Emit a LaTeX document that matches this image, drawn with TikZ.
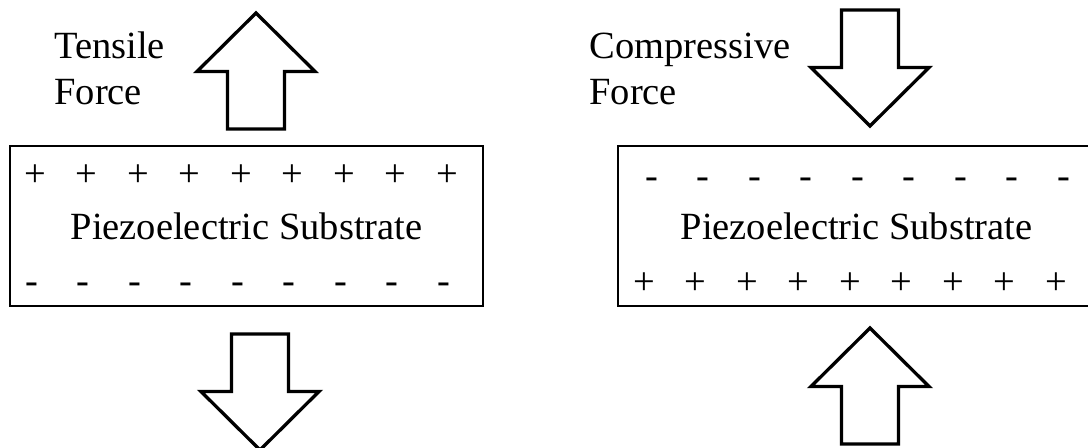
\documentclass[tikz,border=0pt]{standalone}
\usepackage{fontspec}
\setmainfont{Liberation Serif}

\tikzset{
  substrate/.style={draw, line width=1.15pt, inner sep=0pt},
  force/.style={draw, line width=1.65pt, fill=white},
  boxtext/.style={inner sep=0pt, font=\fontsize{19.25}{23.5}\selectfont},
  charge/.style={inner sep=0pt, font=\fontsize{19.25}{23.5}\selectfont},
}

% block arrow: tip x, tip y, direction (1 points up, -1 points down)
\newcommand{\blockarrow}[3]{%
  \draw[force] (#1,#2) -- ++(59,{58.5*(#3)}) -- ++(-30.5,0) -- ++(0,{57.5*(#3)})
    -- ++(-57,0) -- ++(0,{-57.5*(#3)}) -- ++(-30.5,0) -- cycle;}

\begin{document}
\begin{tikzpicture}[x=0.5pt, y=-0.5pt]
  \useasboundingbox (0,0) rectangle (1088,448);
  \clip (0,0) rectangle (1088,448);

  % tensile side
  \node[substrate, minimum width=236.5pt, minimum height=80pt] (leftbox) at (246.5,226) {};
  \node[boxtext, anchor=base] (lefttext) at (246.5,240) {Piezoelectric Substrate};
  \node[boxtext, anchor=base west] (tensile) at (54,59) {Tensile};
  \node[boxtext, anchor=base west] (tensileforce) at (54,105) {Force};
  \foreach \i in {0,...,8} {
    \node[charge] (lplus\i) at ({35+51.5*\i},176) {+};
    \node[charge] (lminus\i) at ({31.7+51.5*\i},288) {-};
  }
  \blockarrow{256}{13}{1}
  \blockarrow{260}{450}{-1}

  % compressive side
  \node[substrate, minimum width=238.5pt, minimum height=80pt] (rightbox) at (856.5,226) {};
  \node[boxtext, anchor=base] (righttext) at (856.5,240) {Piezoelectric Substrate};
  \node[boxtext, anchor=base west] (compressive) at (589,59) {Compressive};
  \node[boxtext, anchor=base west] (compressiveforce) at (589,105) {Force};
  \foreach \i in {0,...,8} {
    \node[charge] (rminus\i) at ({651.7+51.5*\i},183) {-};
    \node[charge] (rplus\i) at ({644+51.5*\i},284) {+};
  }
  \blockarrow{870}{126}{-1}
  \blockarrow{870}{328}{1}
\end{tikzpicture}
\end{document}
